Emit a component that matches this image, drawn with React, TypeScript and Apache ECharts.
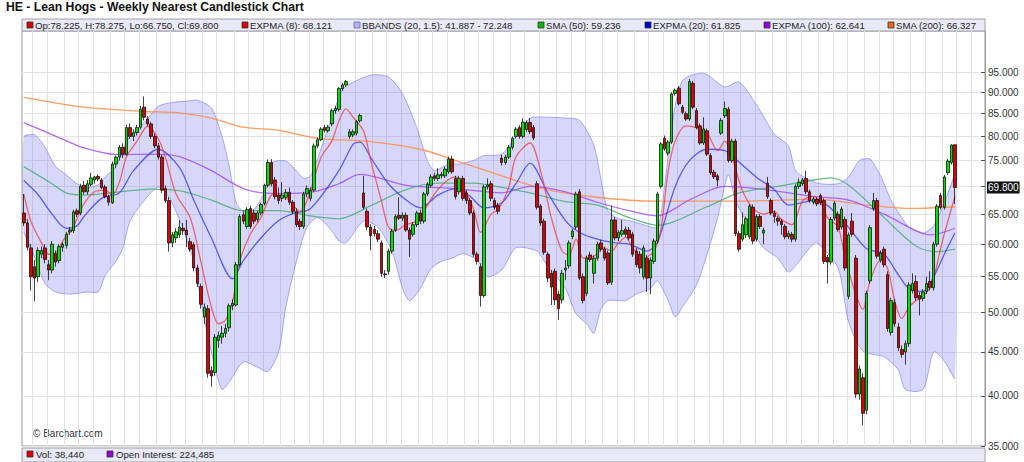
import React, { useEffect, useRef } from 'react';
import * as echarts from 'echarts';

// Weekly candles: [open, high, low, close]
const candles: number[][] = [
  [65.2,68.6,63.0,63.5],[63.5,64.2,59.0,59.5],[59.4,60.0,53.0,55.0],[56.5,57.5,51.5,54.8],[55.0,59.5,54.2,59.0],
  [58.4,59.6,57.8,59.0],[59.4,60.0,57.0,57.6],[56.8,57.5,54.5,56.0],[56.0,60.5,55.5,60.0],[58.5,59.0,56.5,57.2],
  [57.4,60.0,57.0,59.6],[59.5,60.3,58.8,60.0],[59.8,62.0,59.3,61.6],[62.0,62.8,61.5,62.3],[62.2,65.8,61.8,65.4],
  [65.6,66.0,64.5,65.0],[65.2,70.5,64.8,70.0],[70.2,71.0,68.5,69.0],[69.0,71.2,68.5,70.5],[70.4,72.6,70.0,71.6],
  [71.2,72.0,70.5,71.8],[71.9,72.3,71.0,71.4],[71.2,71.6,69.5,69.8],[69.9,70.3,67.8,68.1],[68.1,68.5,66.5,67.1],
  [67.0,74.8,66.8,74.3],[74.3,76.0,73.5,75.7],[75.7,78.2,75.0,77.7],[77.7,78.5,75.5,76.3],[76.3,82.5,76.0,81.9],
  [81.9,82.8,79.5,80.0],[80.0,81.5,79.0,80.8],[80.8,82.5,80.2,81.9],[82.0,86.8,81.5,86.0],[86.5,89.0,83.5,84.2],
  [83.8,84.5,82.2,82.7],[82.7,83.2,79.5,80.0],[80.0,80.6,77.5,78.0],[78.0,78.6,75.2,75.7],[75.7,76.2,68.8,69.3],
  [69.6,70.2,67.0,67.4],[67.4,68.0,58.8,60.2],[60.2,62.0,59.5,61.5],[61.0,62.6,60.2,62.0],[61.5,64.0,61.0,62.8],
  [62.6,63.5,61.5,62.2],[62.3,64.0,59.5,61.5],[60.4,61.0,58.8,59.2],[59.9,60.3,55.8,56.3],[56.3,56.8,53.5,54.0],
  [53.6,54.0,50.5,51.1],[49.4,51.2,48.5,50.7],[50.5,51.0,42.0,42.5],[42.8,43.3,41.0,42.2],[42.6,47.2,42.2,46.8],
  [46.4,47.5,45.5,47.0],[46.8,48.2,46.0,47.3],[47.3,48.5,46.8,47.9],[48.0,51.2,47.5,50.9],[50.9,51.8,50.3,51.2],
  [51.0,57.2,50.8,56.8],[56.8,65.0,56.5,64.6],[64.9,65.6,63.3,63.8],[62.9,66.2,62.5,65.8],[66.0,66.5,62.5,62.9],
  [65.2,65.8,63.3,63.8],[64.1,65.6,63.6,65.2],[65.2,67.0,64.8,66.7],[66.9,70.5,66.5,70.2],[70.2,75.2,69.8,74.6],
  [74.6,75.3,70.0,70.5],[71.2,71.8,67.6,68.1],[68.4,69.8,66.8,67.4],[67.8,70.8,67.2,68.4],[68.0,69.5,67.5,68.9],
  [68.9,69.8,66.6,67.1],[67.1,67.5,65.0,65.5],[65.5,66.0,62.8,63.2],[63.8,64.2,62.3,62.9],[62.9,69.0,62.5,68.6],
  [68.6,70.2,68.0,69.6],[67.8,69.8,67.3,69.3],[69.3,78.5,69.0,78.0],[78.0,79.8,77.5,79.3],[79.3,82.0,79.0,81.6],
  [81.9,82.5,80.8,81.3],[81.2,82.5,80.8,82.0],[82.7,86.2,82.2,85.7],[85.7,86.8,85.0,86.2],[86.0,91.3,85.5,90.9],
  [90.9,92.3,90.3,91.8],[91.8,93.0,91.3,92.6],[80.0,81.6,79.5,81.0],[80.3,81.5,79.8,81.0],[80.7,83.6,80.2,83.2],
  [83.4,85.0,83.0,84.6],[68.8,72.0,65.8,66.2],[65.5,66.0,62.3,62.8],[62.8,63.3,59.0,61.4],[62.4,63.0,61.2,61.7],
  [61.7,62.3,60.3,60.8],[60.2,60.6,55.0,55.5],[55.4,56.0,54.8,55.3],[55.8,59.3,55.3,58.9],[58.9,62.5,58.5,62.1],
  [62.3,65.0,62.0,64.6],[64.8,68.0,64.0,64.3],[64.3,65.3,63.8,64.8],[64.8,65.3,62.0,62.3],[62.3,62.7,58.0,60.8],
  [61.6,63.6,61.2,63.2],[63.2,65.6,62.8,65.2],[65.2,65.8,63.3,63.8],[63.8,69.0,63.4,68.6],[68.6,70.8,68.2,70.4],
  [70.2,72.3,69.8,71.8],[72.0,72.6,71.0,71.5],[71.5,73.5,71.0,72.2],[72.0,72.8,71.5,72.3],[72.0,73.8,71.6,73.3],
  [72.8,75.8,72.4,75.3],[75.3,76.0,72.4,72.8],[71.5,72.0,67.6,68.1],[69.0,72.0,68.5,71.5],[71.5,72.0,67.4,67.8],
  [68.8,69.3,66.8,67.4],[67.4,67.8,64.8,65.2],[65.2,65.6,58.0,58.4],[58.4,58.8,56.8,57.3],[56.5,57.0,50.8,52.3],
  [52.3,70.3,52.0,69.9],[69.9,71.5,69.4,70.3],[70.5,71.0,67.3,67.8],[67.4,67.9,65.8,66.2],[66.5,67.0,65.0,65.5],
  [75.5,76.2,74.0,74.6],[74.6,76.2,74.2,75.7],[75.7,78.2,75.3,77.7],[77.7,80.0,77.2,79.6],[80.0,82.0,79.6,81.6],
  [81.9,82.4,79.5,80.0],[80.0,84.0,79.6,83.1],[81.5,83.5,81.0,83.0],[83.0,84.0,80.5,81.0],[81.9,82.5,79.2,79.7],
  [70.5,71.0,65.8,66.2],[66.4,66.8,63.0,63.5],[63.8,64.2,58.3,58.7],[58.4,58.8,54.2,54.8],[55.5,56.0,51.0,53.5],
  [55.8,56.2,51.0,51.7],[52.5,53.0,49.0,50.5],[51.7,56.0,51.2,55.5],[56.0,57.5,54.5,56.3],[56.6,60.6,56.2,60.2],
  [61.2,62.5,60.8,62.1],[62.8,69.0,62.4,68.6],[69.0,69.5,54.5,54.8],[55.0,55.5,51.2,51.6],[52.6,58.2,52.2,57.8],
  [58.3,58.8,57.2,57.6],[55.5,58.2,54.0,57.8],[57.8,60.4,57.4,60.0],[60.2,60.7,58.8,59.2],[59.2,59.6,57.4,57.8],
  [58.6,59.0,53.8,54.1],[54.2,66.5,53.8,64.0],[64.0,64.5,60.6,61.0],[61.0,62.3,60.5,61.9],[61.6,64.0,61.2,62.2],
  [62.4,62.9,61.2,61.6],[62.3,62.8,60.6,61.0],[61.6,62.0,58.0,58.4],[58.9,59.4,56.4,56.8],[58.4,58.9,55.5,56.3],
  [55.0,59.8,54.6,59.4],[57.8,58.3,52.8,54.8],[54.8,57.9,52.5,57.5],[57.3,60.9,56.9,60.5],[60.5,69.0,60.1,68.6],
  [70.0,78.8,69.6,78.4],[79.6,80.2,77.0,77.4],[76.5,79.2,76.0,78.8],[78.8,90.0,78.4,89.6],[89.7,90.9,89.2,90.5],
  [91.0,91.5,86.9,87.3],[86.5,87.0,84.9,85.3],[85.0,85.5,83.4,83.8],[83.8,93.2,83.4,92.6],[92.2,92.8,86.0,86.5],
  [85.7,86.3,81.5,81.9],[82.3,82.8,78.2,78.6],[78.6,84.2,78.2,81.6],[81.2,81.7,75.9,76.3],[76.0,76.5,72.2,72.6],
  [72.7,73.2,71.4,71.8],[72.0,72.4,70.0,71.2],[80.7,84.0,80.3,83.5],[84.5,87.8,84.0,86.2],[86.0,86.6,74.6,75.0],
  [75.0,79.5,74.6,79.0],[79.0,79.5,61.3,61.7],[61.7,62.2,58.8,59.2],[60.8,65.3,60.4,63.2],[61.5,64.6,61.0,64.2],
  [61.2,66.8,60.8,66.4],[66.2,66.7,60.0,60.5],[60.8,65.0,60.4,64.6],[64.6,65.0,62.5,62.9],[61.8,62.7,60.0,62.3],
  [70.6,71.8,67.7,68.1],[67.4,67.8,64.8,65.2],[65.2,65.6,63.5,64.6],[64.3,64.7,63.0,63.8],[63.8,64.2,61.5,63.2],
  [62.9,63.3,60.8,61.2],[61.2,62.2,60.8,61.7],[61.6,62.0,60.3,60.8],[60.8,70.4,60.4,70.0],[70.0,71.5,69.5,70.8],
  [70.5,71.6,70.1,71.2],[71.5,73.0,68.6,69.0],[69.0,69.4,67.0,67.4],[67.1,68.1,66.7,67.7],[67.6,68.0,66.4,66.8],
  [68.3,68.7,66.6,67.0],[67.4,67.8,56.9,57.3],[57.9,58.3,54.0,57.2],[57.2,64.5,56.8,64.1],[64.3,67.3,63.9,66.9],
  [65.0,65.5,62.0,62.4],[62.8,66.3,62.4,65.9],[64.1,64.6,55.9,56.3],[52.2,61.9,51.8,61.5],[63.8,65.2,61.2,61.6],
  [57.8,58.3,39.8,40.2],[40.2,43.4,39.6,43.0],[42.0,42.5,37.0,38.2],[38.5,53.0,38.1,52.6],[54.4,63.1,54.0,62.7],
  [66.0,68.8,65.6,67.4],[67.4,67.9,57.7,58.1],[57.5,59.0,57.1,58.6],[59.2,59.6,56.4,56.8],[55.3,55.8,47.5,47.9],
  [47.4,52.0,47.0,51.6],[51.3,51.8,48.1,48.5],[48.1,48.6,45.1,45.5],[45.3,45.8,44.3,44.7],[45.0,46.4,43.5,46.0],
  [46.0,54.2,45.6,53.8],[53.0,55.5,52.6,54.0],[54.3,55.2,51.6,52.0],[52.3,52.8,49.6,51.8],[51.9,53.2,51.5,52.8],
  [52.9,55.0,52.5,54.0],[54.3,55.8,53.0,53.4],[53.4,60.4,53.0,60.0],[60.0,66.8,59.6,66.4],[68.3,68.8,65.8,66.2],
  [66.2,72.2,65.8,71.8],[72.6,75.3,72.2,74.9],[74.6,78.3,74.2,78.2],[78.225,78.275,66.75,69.8],
];

// Indicator lines: [week index, value]
const expma8: number[][] = [
  [0,68.6],[2,63.8],[5,60.2],[7,58.4],[9,58.6],[11,60.5],[14,62.9],[17,66.8],[20,69],[23,69.3],[25,68.4],[27,70.8],
  [29,75.7],[32,79],[35,82.2],[38,79.5],[40,75.7],[43,68.6],[47,64.4],[50,57.3],[53,50.7],[55,48.5],[57,49],[59,51.5],
  [61,57.3],[64,61.6],[67,64.4],[70,68.4],[72,68.6],[75,67.4],[78,65.5],[79,66],[81,69.2],[84,75.7],[87,79],[89,83.3],
  [91,86.1],[93,84.2],[96,81.1],[98,75],[101,67.4],[103,62.8],[105,62.2],[108,63.2],[111,63.8],[113,65.5],[116,68.6],
  [119,70.8],[122,71.8],[124,69.9],[127,66],[129,61.9],[132,65],[134,65.8],[137,69.9],[139,75.7],[143,78.6],[146,72.9],
  [149,64.4],[152,58.9],[154,58.3],[156,60.8],[158,57.8],[161,58.1],[164,59.4],[166,58.9],[168,60.2],[170,61.1],
  [172,59.4],[175,57.8],[178,58.9],[180,62.5],[182,72.9],[184,79],[187,82.3],[190,81.9],[193,80.7],[196,77],[198,79],
  [200,75.7],[203,69.2],[206,66],[209,65],[212,65.5],[214,64.1],[217,63.2],[220,67.4],[223,68.1],[225,67.1],[227,64.4],
  [230,62.8],[232,57.8],[235,52.5],[237,50.4],[239,54.3],[242,57.5],[244,56.2],[246,51.6],[248,49.2],[250,50.7],
  [252,51.6],[255,52.7],[257,54.8],[259,59.4],[261,63.8],[263,68.1],
];
const expma20: number[][] = [
  [0,71.1],[4,68.5],[8,65],[12,62.6],[15,63],[17,64.6],[22,67.8],[27,68.8],[31,73],[38,77.3],[44,73.6],[48,67.5],
  [53,61],[59,54.7],[62,57.4],[67,61],[72,63.9],[76,65.1],[81,66],[89,73],[93,78.3],[95,78.8],[98,75.6],[103,70.5],
  [108,67.5],[112,66.1],[117,68.4],[122,69.6],[126,68.2],[130,66.1],[135,67],[139,70.5],[143,74.5],[148,68.8],
  [153,63.9],[157,61.9],[162,60.8],[167,60.2],[171,60],[176,58.9],[179,60.3],[184,70],[188,75],[193,77.3],[198,77],
  [202,74.7],[207,71.7],[212,69.4],[216,66.6],[224,67.5],[228,66],[233,62.7],[238,59.3],[243,58.4],[247,55.3],
  [250,53.3],[254,52.9],[257,55],[260,58.4],[263,61.8],
];
const sma50: number[][] = [
  [0,73.8],[8,70.5],[12,68.8],[17,68.4],[27,69],[36,69.5],[44,69.2],[53,67.5],[62,65.6],[72,65.6],[81,64.7],[89,64.2],
  [98,66.5],[108,69.4],[117,70.6],[127,70.6],[135,69.8],[143,68.8],[153,67.2],[162,66.6],[171,64.4],[179,63.1],
  [193,66.3],[202,68.8],[212,69.9],[224,71.3],[228,71.6],[233,70.2],[243,64.4],[252,59.7],[258,58.8],[263,59.2],
];
const expma100: number[][] = [
  [0,83],[8,80.4],[17,77.6],[27,76.2],[36,76.3],[44,75.8],[53,73],[62,69.6],[70,68.7],[81,68.9],[89,70.5],[95,72.3],
  [108,70.2],[122,69.6],[135,68.8],[143,70],[153,69],[162,67.1],[171,65.6],[179,64.7],[188,67.5],[198,70],[207,69.6],
  [216,68.8],[224,68.1],[233,67.5],[243,65],[252,62.2],[256,61.5],[263,62.6],
];
const sma200: number[][] = [
  [0,88.8],[17,86.5],[34,85.5],[44,85.2],[53,84],[62,82],[72,81.3],[83,79.6],[98,78.9],[112,77.3],[122,75],[135,72],
  [147,69.5],[162,68],[178,67.3],[200,67.3],[224,67.6],[238,66.6],[251,66],[263,66.3],
];
const bbUpper: number[][] = [
  [0,80],[3,80.4],[6,77.7],[9,73.8],[12,72.2],[15,70.5],[18,69.8],[21,70.3],[23,71.8],[26,73.8],[28,77.2],[30,80],
  [34,83],[38,86.7],[42,87.6],[46,87.9],[49,88.1],[53,86.3],[56,80],[58,74],[60,67],[62,65.5],[65,65.8],[68,69],
  [70,74.5],[74,74.9],[77,73],[79,71.5],[81,72],[84,77.5],[87,84.2],[90,90.6],[92,92],[98,94.2],[103,93.8],[107,89.6],
  [111,81.9],[114,75],[116,73],[120,74.3],[123,74.3],[127,75],[130,76],[135,76.3],[139,80],[143,84],[148,84.2],
  [153,84],[157,83.5],[161,78.2],[163,71.5],[165,65.6],[168,64.2],[171,63.9],[175,63.2],[179,62.8],[181,70],[183,82],
  [186,92.8],[192,94.7],[198,91.3],[202,92.5],[207,87],[212,80.5],[216,78],[218,73],[222,71.2],[225,70.5],[230,70.5],
  [233,71.8],[236,75],[239,75.3],[242,72],[245,67.4],[248,64.4],[250,62.8],[254,61.8],[257,63],[260,67],[263,72.248],
];
const bbLower: number[][] = [
  [0,62],[3,58],[6,54],[9,52.8],[13,52.5],[18,52.8],[21,52.8],[23,55.2],[26,57.3],[28,59.4],[30,63.8],[34,67.4],
  [38,69.9],[41,68],[44,64],[48,57.3],[51,49],[54,43.2],[56,40.7],[58,41.5],[62,43.8],[66,43.2],[69,42.7],[72,45],
  [74,50.7],[77,57.3],[80,62.8],[83,64.4],[87,62.2],[89,60.5],[91,60.2],[96,63.8],[100,62.8],[104,58.9],[107,53.3],
  [109,51.6],[112,53.3],[115,56.2],[118,57.3],[121,57.8],[124,58.5],[128,57.5],[131,55],[135,56],[139,59.4],[145,58.9],
  [147,57.3],[150,55.2],[153,53.3],[156,49.8],[159,48.5],[161,47.3],[163,50.4],[165,51.6],[170,51.6],[173,52.5],
  [177,53.3],[179,54.4],[182,51.6],[184,49.4],[186,50.7],[190,53.8],[193,58.4],[196,64.4],[199,72.2],[201,67.4],
  [205,62.8],[209,59.4],[213,57.8],[216,55.7],[219,57.3],[222,59.4],[224,60.2],[230,56.3],[233,48.7],[237,45.1],
  [243,44.4],[247,42.9],[249,40.7],[254,40.7],[257,45],[260,43.9],[263,41.887],
];

const yTicks = [35, 40, 45, 50, 55, 60, 65, 70, 75, 80, 85, 90, 95];
const yLabelTicks = [35, 40, 45, 50, 55, 60, 65, 75, 80, 85, 90, 95];
const lastClose = 69.8;
const totalSlots = 272;

const START = Date.UTC(2015, 8, 14);
const categories: string[] = Array.from({ length: totalSlots }, (_, k) =>
  new Date(START + k * 7 * 86400000).toISOString().slice(0, 10)
);

const topLegend = [
  { x: 27, color: '#dd0000', stroke: '#333', label: 'Op:78.225, H:78.275, Lo:66.750, Cl:69.800' },
  { x: 242, color: '#dd0000', stroke: '#333', label: 'EXPMA (8): 68.121' },
  { x: 354, color: '#b4b4f0', stroke: '#6666bb', label: 'BBANDS (20, 1.5): 41.887 - 72.248' },
  { x: 538, color: '#00bb00', stroke: '#333', label: 'SMA (50): 59.236' },
  { x: 645, color: '#0000dd', stroke: '#333', label: 'EXPMA (20): 61.825' },
  { x: 764, color: '#9900dd', stroke: '#333', label: 'EXPMA (100): 62.641' },
  { x: 888, color: '#ee6611', stroke: '#333', label: 'SMA (200): 66.327' },
];
const bottomLegend = [
  { x: 27, color: '#dd0000', label: 'Vol: 38,440' },
  { x: 107, color: '#9900dd', label: 'Open Interest: 224,485' },
];

const FONT = '"Liberation Sans", Arial, sans-serif';

export default function App() {
  const ref = useRef<HTMLDivElement>(null);
  useEffect(() => {
    if (!ref.current) return;
    const chart = echarts.init(ref.current, undefined, { renderer: 'svg' });
    const monthStart = categories.map((d, k) => k > 0 && d.slice(5, 7) !== categories[k - 1].slice(5, 7));
    const lineSeries = (name: string, data: number[][], color: string) => ({
      name,
      type: 'line',
      data,
      showSymbol: false,
      smooth: 0.3,
      z: 2,
      lineStyle: { color, width: 1.3 },
      silent: true,
    });
    const legendGraphics: any[] = [
      { type: 'text', left: 6, top: 1, style: { text: 'HE - Lean Hogs - Weekly Nearest Candlestick Chart', font: `bold 12.2px ${FONT}`, fill: '#111' } },
      { type: 'rect', shape: { x: 22, y: 19, width: 963, height: 12 }, style: { fill: '#e9e9f8', stroke: '#a0a0a8', lineWidth: 1 } },
      ...topLegend.flatMap((it) => [
        { type: 'rect', shape: { x: it.x, y: 22, width: 6, height: 6 }, style: { fill: it.color, stroke: it.stroke, lineWidth: 0.8 } },
        { type: 'text', x: it.x + 8, y: 25.5, style: { text: it.label, font: `9.6px ${FONT}`, fill: '#222', textVerticalAlign: 'middle' } },
      ]),
      { type: 'rect', shape: { x: 22, y: 448, width: 963, height: 14 }, style: { fill: '#e9e9f8', stroke: '#a0a0a8', lineWidth: 1 } },
      ...bottomLegend.flatMap((it) => [
        { type: 'rect', shape: { x: it.x, y: 451, width: 6, height: 6 }, style: { fill: it.color, stroke: '#333', lineWidth: 0.8 } },
        { type: 'text', x: it.x + 9, y: 454.5, style: { text: it.label, font: `9.6px ${FONT}`, fill: '#222', textVerticalAlign: 'middle' } },
      ]),
      { type: 'text', x: 33, y: 433, style: { text: '© Barchart.com', font: `10px ${FONT}`, fill: '#333', textVerticalAlign: 'middle' } },
    ];
    chart.setOption({
      animation: false,
      backgroundColor: '#fff',
      grid: { left: 22, right: 39, top: 31, bottom: 16, show: true, borderColor: '#9a9a9a', borderWidth: 1, backgroundColor: 'transparent' },
      xAxis: {
        type: 'category',
        data: categories,
        boundaryGap: true,
        axisLine: { show: false },
        axisTick: { show: false },
        axisLabel: { show: false },
        splitLine: { show: true, interval: (idx: number) => monthStart[idx], lineStyle: { color: '#e2e2e2', width: 1 } },
      },
      yAxis: {
        type: 'log',
        position: 'right',
        min: 35,
        max: 106,
        axisLine: { show: true, lineStyle: { color: '#9a9a9a' } },
        axisTick: { show: true, inside: true, length: 4, customValues: yTicks, lineStyle: { color: '#555' } },
        axisLabel: {
          customValues: yLabelTicks,
          formatter: (v: number) => v.toFixed(3),
          fontSize: 10,
          fontFamily: FONT,
          color: '#333',
          margin: 3,
        },
        splitLine: { show: true, lineStyle: { color: '#e2e2e2', width: 1 } },
      },
      graphic: legendGraphics,
      series: [
        {
          type: 'custom',
          z: 1,
          silent: true,
          clip: true,
          data: [[0, 60]],
          encode: { x: 0, y: 1 },
          renderItem: (params: any, api: any) => {
            if (params.dataIndex !== 0) return null;
            const up = bbUpper.map(([i, v]) => api.coord([i, v]));
            const lo = bbLower.map(([i, v]) => api.coord([i, v]));
            const edge = { stroke: 'rgba(110,110,245,0.55)', lineWidth: 1, fill: 'none' };
            return {
              type: 'group',
              children: [
                { type: 'polygon', shape: { points: [...up, ...lo.slice().reverse()], smooth: 0.25 }, style: { fill: 'rgba(112,112,245,0.28)', stroke: 'none' } },
                { type: 'polyline', shape: { points: up, smooth: 0.25 }, style: edge },
                { type: 'polyline', shape: { points: lo, smooth: 0.25 }, style: edge },
              ],
            };
          },
        },
        lineSeries('SMA (200)', sma200, 'rgba(255,140,70,0.85)'),
        lineSeries('EXPMA (100)', expma100, 'rgba(160,70,250,0.8)'),
        lineSeries('SMA (50)', sma50, 'rgba(60,170,100,0.75)'),
        lineSeries('EXPMA (20)', expma20, 'rgba(50,50,245,0.75)'),
        lineSeries('EXPMA (8)', expma8, 'rgba(240,60,60,0.75)'),
        {
          name: 'HE',
          type: 'candlestick',
          z: 3,
          barWidth: 3,
          data: candles.map(([o, h, l, c]) => [o, c, l, h]),
          itemStyle: { color: '#00e000', color0: '#dd0000', borderColor: '#111', borderColor0: '#111', borderWidth: 0.8 },
          markLine: {
            silent: true,
            symbol: ['none', 'none'],
            lineStyle: { color: 'transparent', width: 0, type: 'solid' },
            data: [{ yAxis: lastClose }],
            label: {
              show: true,
              position: 'end',
              formatter: lastClose.toFixed(3),
              backgroundColor: '#111',
              color: '#fff',
              fontSize: 10,
              fontFamily: FONT,
              padding: [1, 1],
              distance: 2,
            },
          },
        },
      ],
    });
    return () => chart.dispose();
  }, []);
  return <div ref={ref} style={{ position: 'fixed', left: 0, top: 0, width: 1024, height: 462, background: '#fff' }} />;
}
